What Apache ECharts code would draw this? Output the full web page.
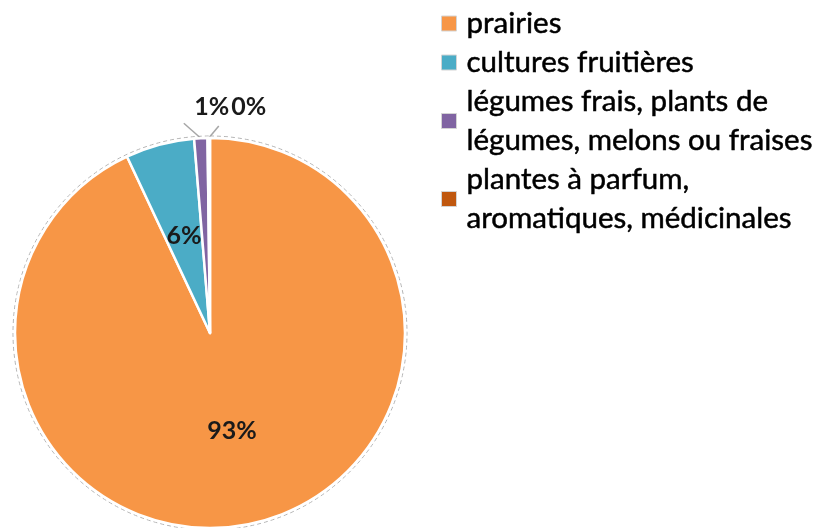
<!DOCTYPE html>
<html>
<head>
<meta charset="utf-8">
<title>Surfaces</title>
<script src="https://cdn.jsdelivr.net/npm/echarts@6/dist/echarts.min.js"></script>
<style>
  html,body{margin:0;padding:0;background:#fff;}
  #chart{width:823px;height:528px;}
</style>
</head>
<body>
<div id="chart"></div>
<script>
  // données (en %)
  var categories = ['prairies', 'cultures fruitières', 'légumes frais, plants de légumes, melons ou fraises', 'plantes à parfum, aromatiques, médicinales'];
  var legendText = ['prairies', 'cultures fruitières', 'légumes frais, plants de\nlégumes, melons ou fraises', 'plantes à parfum,\naromatiques, médicinales'];
  var values = [93.0, 5.7, 1.1, 0.2];
  var colors = ['#F79646', '#4BACC6', '#8064A2', '#C0580F'];

  var FONT = 'Lato, "Noto Sans", sans-serif';

  var pieData = categories.map(function(name, i){
    var d = { name: name, value: values[i], itemStyle: { color: colors[i] } };
    if (i >= 2) {
      d.label = { position: 'outside' };
      d.labelLine = { show: true };
    }
    return d;
  });

  var myChart = echarts.init(document.getElementById('chart'), null, { renderer: 'canvas' });
  var option = {
    animation: false,
    legend: {
      orient: 'vertical',
      left: 436,
      top: -1,
      itemGap: 0,
      itemWidth: 15,
      itemHeight: 15,
      icon: 'rect',
      itemStyle: { borderColor: '#d4d4d4', borderWidth: 1 },
      data: categories,
      formatter: function(name){
        return legendText[categories.indexOf(name)];
      },
      textStyle: {
        fontFamily: FONT,
        fontSize: 29.5,
        lineHeight: 39,
        color: '#000',
        textBorderColor: '#000',
        textBorderWidth: 0.5,
        padding: [0, 0, 0, 5]
      }
    },
    series: [
      {
        name: 'contour',
        type: 'pie',
        center: [210, 333],
        radius: [0, 197],
        silent: true,
        z: 1,
        label: { show: false },
        labelLine: { show: false },
        itemStyle: { color: 'rgba(0,0,0,0)', borderColor: '#b4b4b4', borderWidth: 1, borderType: [4, 3] },
        data: [{ name: 'contour', value: 1 }]
      },
      {
        name: 'surfaces',
        type: 'pie',
        center: [210, 333],
        radius: [0, 195],
        startAngle: 90,
        clockwise: true,
        z: 2,
        percentPrecision: 0,
        avoidLabelOverlap: false,
        itemStyle: { borderColor: '#fff', borderWidth: 2.5 },
        label: {
          show: true,
          position: 'inside',
          formatter: '{d}%',
          fontFamily: FONT,
          fontSize: 25,
          fontWeight: 'bold',
          color: '#1a1a1a'
        },
        labelLine: {
          length: 14,
          length2: 0,
          lineStyle: { color: '#a6a6a6', width: 1.5 }
        },
        labelLayout: function(params){
          if (params.dataIndex < 2) return {};
          var p0 = params.labelLinePoints ? params.labelLinePoints[0] : null;
          if (!p0) return {};
          if (params.dataIndex === 2) {
            return {
              x: p0[0] + 11, y: p0[1] - 31, align: 'center', verticalAlign: 'middle',
              labelLinePoints: [p0, [p0[0] - 17, p0[1] - 15]]
            };
          }
          return {
            x: p0[0] + 40, y: p0[1] - 31, align: 'center', verticalAlign: 'middle',
            labelLinePoints: [p0, [p0[0] + 10, p0[1] - 12]]
          };
        },
        data: pieData
      }
    ]
  };
  myChart.setOption(option);

  window.addEventListener('resize', function(){
    myChart.resize();
  });
</script>
</body>
</html>
